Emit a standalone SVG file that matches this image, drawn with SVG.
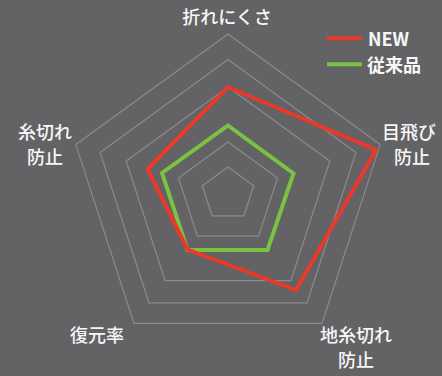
<svg xmlns="http://www.w3.org/2000/svg" width="442" height="376" viewBox="0 0 442 376">
<style>
.grid{fill:none;stroke:#8b8b8d;stroke-width:1.2}
.series{fill:none;stroke-width:4;stroke-linejoin:miter}
.lbl{font-family:"Noto Sans CJK JP","Noto Sans",sans-serif;font-size:18px;font-weight:500;fill:#f7f7f7;text-anchor:middle}
.leg{font-family:"Noto Sans CJK JP","Noto Sans",sans-serif;font-size:18px;font-weight:700;fill:#f7f7f7}
</style>
<rect width="442" height="376" fill="#636365"/>
<g id="grid">
<polygon class="grid" points="228,34 380.2,144.6 322,323.4 134,323.4 75.8,144.6"/>
<polygon class="grid" points="228,59.5 355.9,152.4 307.1,302.8 148.9,302.8 100.1,152.4"/>
<polygon class="grid" points="228,87 329.8,160.9 290.9,280.6 165.1,280.6 126.2,160.9"/>
<polygon class="grid" points="228,142 277.5,177.9 258.6,236.1 197.4,236.1 178.5,177.9"/>
<polygon class="grid" points="228,167 253.7,185.7 243.9,215.8 212.1,215.8 202.3,185.7"/>
</g>
<g id="connectors">
<polygon id="series-old" class="series" stroke="#7cc242" points="228,125.5 293.5,173.5 267.5,250 187.5,250 162,173"/>
<polygon id="series-new" class="series" stroke="#e8392a" points="228,87 376,150 296,290 187.5,249.5 147.5,169"/>
</g>
<g id="legend">
<line x1="327" y1="38.3" x2="362" y2="38.3" stroke="#e8392a" stroke-width="4"/>
<text class="leg" x="368" y="46">NEW</text>
<line x1="327" y1="64.3" x2="362" y2="64.3" stroke="#7cc242" stroke-width="4"/>
<text class="leg" x="367" y="71.5">従来品</text>
</g>
<g id="axis-top"><text class="lbl" x="227" y="24">折れにくさ</text></g>
<g id="axis-right"><text class="lbl" x="409" y="139">目飛び</text><text class="lbl" x="412" y="164">防止</text></g>
<g id="axis-bottom-right"><text class="lbl" x="356" y="342">地糸切れ</text><text class="lbl" x="356" y="367">防止</text></g>
<g id="axis-bottom-left"><text class="lbl" x="97" y="342">復元率</text></g>
<g id="axis-left"><text class="lbl" x="45" y="139">糸切れ</text><text class="lbl" x="45" y="164">防止</text></g>
</svg>
